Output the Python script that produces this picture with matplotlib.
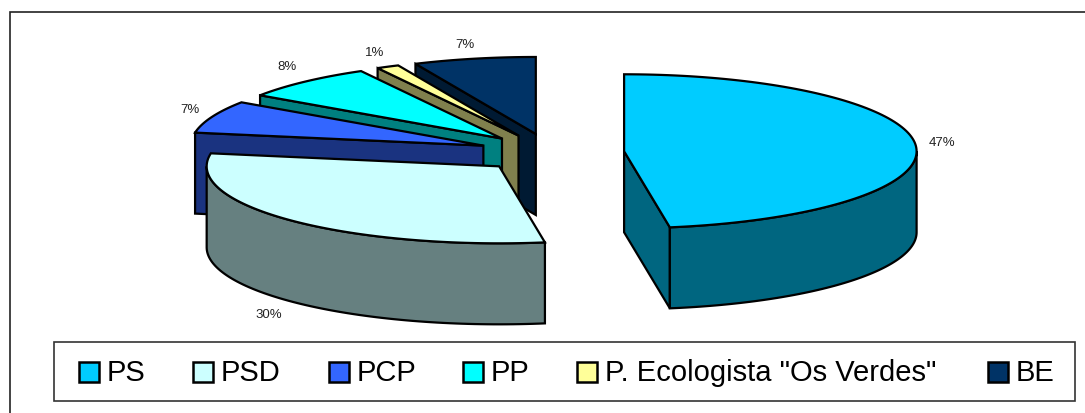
import numpy as np
import matplotlib
matplotlib.use('Agg')
import matplotlib.pyplot as plt
from matplotlib.patches import Polygon, Rectangle

plt.rcParams['font.family'] = ['Liberation Sans', 'DejaVu Sans']

parties = ['PS', 'PSD', 'PCP', 'PP', 'P. Ecologista "Os Verdes"', 'BE']
shares = [47.5, 30.2, 6.8, 7.5, 1.25, 6.75]
pct_labels = ['47%', '30%', '7%', '8%', '1%', '7%']
top_colors = ['#00CCFF', '#CCFFFF', '#3366FF', '#00FFFF', '#FFFF99', '#003366']
side_colors = ['#006680', '#668080', '#1A3380', '#008080', '#80804D', '#001A33']

# pixel layout of the projected pie
cx, cy = 551.2, 153.8
rx, ry = 292.5, 77.0
depth = 81.0
explode = 0.25

label_pos = [(942, 143), (269, 315), (190, 110), (287, 67), (375, 53), (465, 45)]
legend_x = [79, 193, 329, 463, 577, 988]

fig = plt.figure(figsize=(10.85, 4.14), dpi=100)
ax = fig.add_axes([0, 0, 1, 1])
ax.set_xlim(0, 1085)
ax.set_ylim(414, 0)
ax.axis('off')

# outer frame runs off the right and bottom of the picture
ax.add_patch(Rectangle((10, 13), 1100, 420, fc='white', ec='#222222', lw=1.2))


def rim(x0, y0, a):
    return x0 + rx * np.cos(a), y0 - ry * np.sin(a)


# wedges run clockwise from 12 o'clock
edges = 90 - np.cumsum([0] + shares) * 3.6
wedges = []
for i in range(len(shares)):
    a0, a1 = np.radians(edges[i]), np.radians(edges[i + 1])
    mid = (a0 + a1) / 2
    x0 = cx + explode * rx * np.cos(mid)
    y0 = cy - explode * ry * np.sin(mid)
    wedges.append((i, a0, a1, mid, x0, y0))


def draw_wedge(i, a0, a1, mid, x0, y0):
    style = dict(ec='black', lw=1.6, joinstyle='miter')
    mx, my = rim(x0, y0, mid)
    # flat cut faces, only if they face the viewer
    for a in (a0, a1):
        px, py = rim(x0, y0, a)
        nx, ny = -(py - y0), px - x0
        if nx * (mx - x0) + ny * (my - y0) > 0:
            nx, ny = -nx, -ny
        if ny > 1e-6:
            ax.add_patch(Polygon([(x0, y0), (px, py), (px, py + depth), (x0, y0 + depth)],
                                 fc=side_colors[i], **style))
    # outer rim, front half only
    lo, hi = max(a1, -np.pi), min(a0, 0.0)
    if hi > lo:
        t = np.linspace(lo, hi, 80)
        xs, ys = rim(x0, y0, t)
        pts = np.column_stack([np.r_[xs, xs[::-1]], np.r_[ys, ys[::-1] + depth]])
        ax.add_patch(Polygon(pts, fc=side_colors[i], **style))
    # top face
    t = np.linspace(a0, a1, 120)
    xs, ys = rim(x0, y0, t)
    pts = np.column_stack([np.r_[x0, xs], np.r_[y0, ys]])
    ax.add_patch(Polygon(pts, fc=top_colors[i], **style))


for k in [5, 4, 3, 2, 1, 0]:
    draw_wedge(*wedges[k])

for (lx, ly), s in zip(label_pos, pct_labels):
    ax.text(lx, ly, s, fontsize=9.5, ha='center', va='center', color='#222222')

# legend
ax.add_patch(Rectangle((54, 343), 1021, 59, fc='white', ec='#333333', lw=1.2))
for x, name, c in zip(legend_x, parties, top_colors):
    ax.add_patch(Rectangle((x, 363), 20, 20, fc=c, ec='black', lw=1.8))
    ax.text(x + 28, 373, name, fontsize=21, ha='left', va='center', color='black')

fig.savefig('out.png', dpi=100)
